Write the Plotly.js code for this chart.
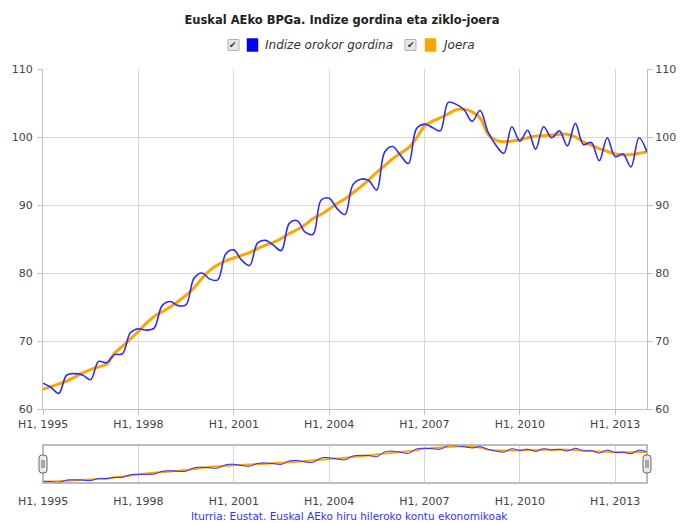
<!DOCTYPE html>
<html><head><meta charset="utf-8">
<script src="https://cdn.plot.ly/plotly-3.0.1.min.js"></script>
<style>html,body{margin:0;padding:0;background:#fff}#chart{width:680px;height:523px}</style>
</head><body><div id="chart"></div>
<script>
// Quarterly series, 1995 H1 (Q1) .. 2014 H1
const startYear = 1995;
const indizeGordina = [
  63.8, 63.2, 62.3, 65.0,   65.2, 65.0, 64.3, 67.0,   66.8, 68.0, 68.1, 71.2,
  71.8, 71.6, 71.9, 75.2,   75.8, 75.2, 75.3, 79.2,   80.0, 79.1, 79.0, 82.8,
  83.4, 81.9, 81.1, 84.4,   84.8, 84.1, 83.3, 87.3,   87.7, 86.0, 85.7, 90.7,
  91.0, 89.5, 88.6, 93.0,   93.8, 93.6, 92.2, 97.8,   98.6, 97.3, 96.1, 101.2,
  101.9, 101.4, 100.9, 105.1, 104.8, 104.0, 102.3, 103.9, 100.7, 98.8, 97.6, 101.5,
  99.4, 101.0, 98.2, 101.5,  99.9, 100.9, 98.7, 102.0,  98.9, 99.2, 96.5, 99.9,
  97.1, 97.5, 95.6, 99.9,   97.8
];
const joera = [
  62.9, 63.3, 63.7, 64.1,   64.7, 65.3, 65.8, 66.2,   66.6, 68.2, 69.2, 70.3,
  71.4, 72.6, 73.6, 74.3,   75.0, 75.8, 76.7, 77.8,   79.2, 80.4, 81.2, 81.8,
  82.2, 82.6, 83.0, 83.6,   84.1, 84.5, 85.1, 85.8,   86.4, 87.1, 88.0, 88.6,
  89.4, 90.2, 90.9, 91.8,   92.7, 93.7, 94.8, 95.8,   96.8, 97.6, 98.4, 99.8,
  101.6, 102.3, 102.8, 103.4, 104.0, 104.1, 103.7, 102.8, 100.4, 99.5, 99.3, 99.4,
  99.6, 99.9, 100.1, 100.2,  100.3, 100.4, 100.4, 100.0, 99.3, 98.8, 98.3, 97.9,
  97.5, 97.4, 97.4, 97.6,   97.8
];
const tickYears = [1995, 1998, 2001, 2004, 2007, 2010, 2013];
const tickLabels = tickYears.map(y => 'H1, ' + y);
const seriesNames = ['Indize orokor gordina', 'Joera'];
const seriesColors = ['#2b2bff', '#ffa500'];
const titleText = 'Euskal AEko BPGa. Indize gordina eta ziklo-joera';
const creditText = 'Iturria: Eustat. Euskal AEko hiru hileroko kontu ekonomikoak';

const periods = indizeGordina.map((_, i) => {
  const y = startYear + Math.floor(i / 4);
  const m = (i % 4) * 3 + 1;
  return y + '-' + String(m).padStart(2, '0') + '-01';
});
const tickVals = tickYears.map(y => y + '-01-01');

// pixel helpers (plot area: x 43..647, y 69..483)
const L = 43, R = 647, T = 69, B = 483;
const px = x => (x - L) / (R - L);
const py = y => (B - y) / (B - T);

const FONT = 'DejaVu Sans, Verdana, sans-serif';
const traces = [
  {x: periods, y: joera, type: 'scatter', mode: 'lines', name: seriesNames[1],
   line: {color: seriesColors[1], width: 3, shape: 'spline', smoothing: 1}, xaxis: 'x', yaxis: 'y', hoverinfo: 'skip'},
  {x: periods, y: indizeGordina, type: 'scatter', mode: 'lines', name: seriesNames[0],
   line: {color: seriesColors[0], width: 1.6, shape: 'spline', smoothing: 1}, xaxis: 'x', yaxis: 'y', hoverinfo: 'skip'},
  {x: periods, y: indizeGordina, type: 'scatter', mode: 'lines', showlegend: false,
   line: {width: 0}, opacity: 0, xaxis: 'x', yaxis: 'y3', hoverinfo: 'skip'},
  {x: periods, y: joera, type: 'scatter', mode: 'lines',
   line: {color: seriesColors[1], width: 2, shape: 'spline', smoothing: 1}, xaxis: 'x2', yaxis: 'y2', hoverinfo: 'skip'},
  {x: periods, y: indizeGordina, type: 'scatter', mode: 'lines',
   line: {color: seriesColors[0], width: 1, shape: 'spline', smoothing: 1}, xaxis: 'x2', yaxis: 'y2', hoverinfo: 'skip'}
];

const axisFont = {family: FONT, size: 11, color: '#444'};
const mainBottom = py(409);
const navTop = py(445);

const shapes = [];
const annotations = [];
// navigator outline
shapes.push({type: 'rect', xref: 'paper', yref: 'paper', x0: 0, x1: 1, y0: 0, y1: navTop,
  line: {color: '#a8a8a8', width: 1.5}, fillcolor: 'rgba(0,0,0,0)', layer: 'above'});
// navigator handles
[0, 1].forEach(ax => {
  shapes.push({type: 'path', xref: 'paper', yref: 'paper', xsizemode: 'pixel', ysizemode: 'pixel',
    xanchor: ax, yanchor: py(464),
    path: 'M -4 -6 Q -4 -9 -1 -9 L 1 -9 Q 4 -9 4 -6 L 4 6 Q 4 9 1 9 L -1 9 Q -4 9 -4 6 Z',
    fillcolor: '#ebe7e8', line: {color: '#666', width: 1}, layer: 'above'});
  shapes.push({type: 'path', xref: 'paper', yref: 'paper', xsizemode: 'pixel', ysizemode: 'pixel',
    xanchor: ax, yanchor: py(464),
    path: 'M -1 -4 L -1 4 M 1 -4 L 1 4', line: {color: '#666', width: 1}, layer: 'above'});
});
// custom legend
const legendY = 45;
const legendItems = [
  {cb: 228, sq: 247, tx: 263, color: '#0000ff', text: seriesNames[0]},
  {cb: 405, sq: 425, tx: 440, color: '#ffa500', text: seriesNames[1]}
];
legendItems.forEach(it => {
  shapes.push({type: 'rect', xref: 'paper', yref: 'paper', x0: px(it.cb), x1: px(it.cb + 11),
    y0: py(legendY + 5.5), y1: py(legendY - 5.5), fillcolor: '#e6e6e6', line: {color: '#b4b4b4', width: 1}});
  annotations.push({xref: 'paper', yref: 'paper', x: px(it.cb + 5.5), y: py(legendY), text: '✔',
    showarrow: false, xanchor: 'center', yanchor: 'middle', font: {family: FONT, size: 9, color: '#333'}});
  shapes.push({type: 'rect', xref: 'paper', yref: 'paper', x0: px(it.sq), x1: px(it.sq + 11),
    y0: py(legendY + 6.5), y1: py(legendY - 6.5), fillcolor: it.color, line: {color: it.color, width: 0.5}});
  annotations.push({xref: 'paper', yref: 'paper', x: px(it.tx), y: py(legendY), text: '<i>' + it.text + '</i>',
    showarrow: false, xanchor: 'left', yanchor: 'middle', font: {family: FONT, size: 12, color: '#333'}});
});
annotations.push({xref: 'paper', yref: 'paper', x: px(349), y: py(515.5), text: creditText, showarrow: false,
  xanchor: 'center', yanchor: 'middle', font: {family: FONT, size: 10.5, color: '#3333ff'}});

const layout = {
  width: 680, height: 523,
  margin: {l: L, r: 680 - R, t: T, b: 523 - B, pad: 0},
  paper_bgcolor: '#fff', plot_bgcolor: '#fff',
  showlegend: false,
  title: {text: '<b>' + titleText + '</b>', x: 342 / 680, xref: 'container', xanchor: 'center',
    y: 1 - 20 / 523, yref: 'container', yanchor: 'middle', font: {family: FONT, size: 11.5, color: '#222'}},
  xaxis: {type: 'date', domain: [0, 1], anchor: 'y', range: [periods[0], periods[periods.length - 1]],
    tickmode: 'array', tickvals: tickVals, ticktext: tickLabels, showgrid: true, gridcolor: '#d8d8d8',
    ticks: 'outside', ticklen: 5, tickcolor: '#c0c0c0', showline: true, linecolor: '#c0c0c0',
    tickfont: axisFont, zeroline: false},
  yaxis: {domain: [mainBottom, 1], anchor: 'x', range: [60, 110], tick0: 60, dtick: 10,
    showgrid: true, gridcolor: '#d8d8d8', gridwidth: 1, ticks: 'outside', ticklen: 5, tickcolor: '#c0c0c0',
    showline: true, linecolor: '#c0c0c0', tickfont: axisFont, zeroline: false, ticklabelstandoff: 2},
  yaxis3: {overlaying: 'y', side: 'right', anchor: 'x', range: [60, 110], tick0: 60, dtick: 10,
    showgrid: false, ticks: 'outside', ticklen: 5, tickcolor: '#c0c0c0', showline: true, linecolor: '#c0c0c0',
    tickfont: axisFont, zeroline: false},
  xaxis2: {type: 'date', domain: [0, 1], anchor: 'y2', range: [periods[0], periods[periods.length - 1]],
    tickmode: 'array', tickvals: tickVals, ticktext: tickLabels, showgrid: true, gridcolor: '#d8d8d8',
    ticks: '', showline: false, tickfont: axisFont, zeroline: false, ticklabelstandoff: 10},
  yaxis2: {domain: [0, navTop], anchor: 'x2', range: [61.6, 105.8], visible: false, showgrid: false, zeroline: false},
  shapes: shapes,
  annotations: annotations
};

Plotly.newPlot('chart', traces, layout, {displayModeBar: false, staticPlot: true});
</script>
</body></html>
